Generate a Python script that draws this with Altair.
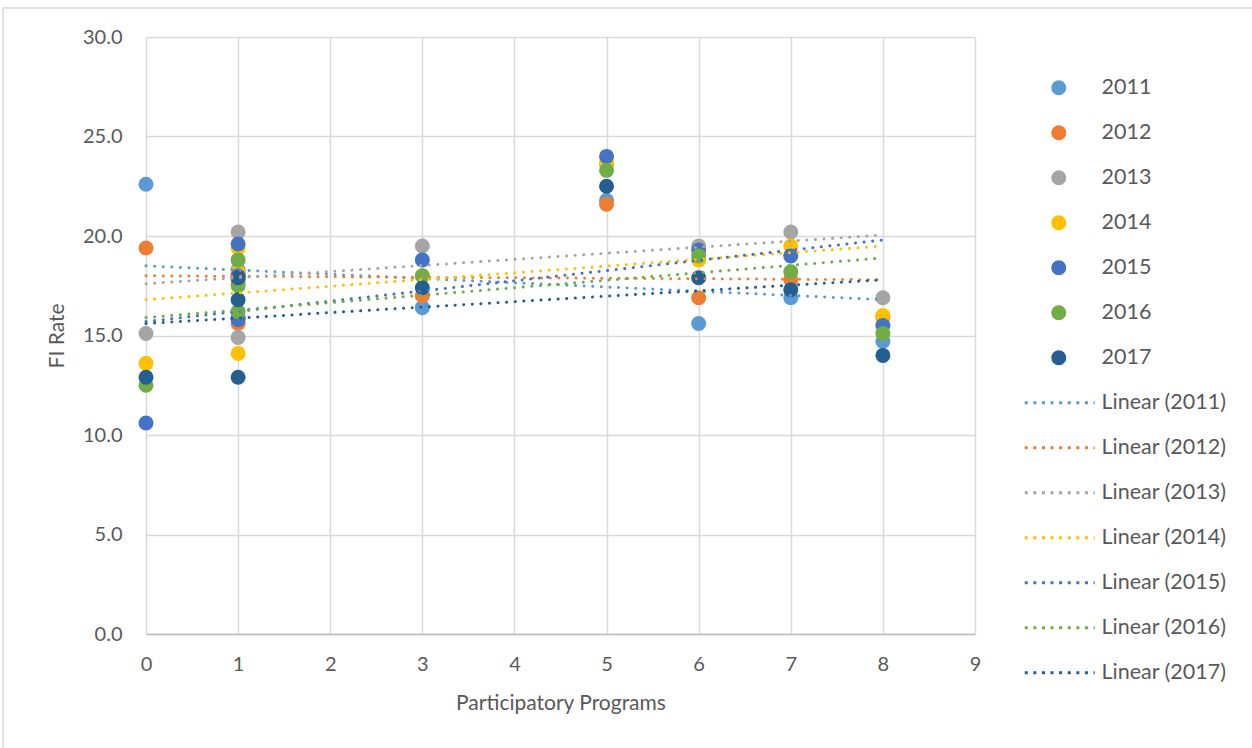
import altair as alt
import pandas as pd

# Participatory programs per location (x) and FI rate per year (y)
programs = [0, 1, 1, 1, 3, 5, 6, 7, 8]
years = ["2011", "2012", "2013", "2014", "2015", "2016", "2017"]
rates = {
    "2011": [22.6, 18.3, 17.8, 15.9, 16.4, 21.8, 15.6, 16.9, 14.7],
    "2012": [19.4, 18.1, 17.6, 15.6, 17.0, 21.6, 16.9, 17.8, 15.9],
    "2013": [15.1, 20.2, 17.9, 14.9, 19.5, 23.6, 19.5, 20.2, 16.9],
    "2014": [13.6, 19.4, 18.2, 14.1, 18.0, 23.7, 18.8, 19.5, 16.0],
    "2015": [10.6, 19.6, 18.0, 15.8, 18.8, 24.0, 19.3, 19.0, 15.5],
    "2016": [12.5, 18.8, 17.5, 16.2, 18.0, 23.3, 19.0, 18.2, 15.1],
    "2017": [12.9, 17.9, 16.8, 12.9, 17.4, 22.5, 17.9, 17.3, 14.0],
}
# Linear trend values at 0 and 8 programs
trend_x = [0, 8]
trend_start = [18.5, 18.0, 17.6, 16.8, 15.7, 15.9, 15.6]
trend_end = [16.8, 17.8, 20.05, 19.5, 19.8, 18.9, 17.8]
colors = ["#5B9BD5", "#ED7D31", "#A5A5A5", "#FFC000", "#4472C4", "#70AD47", "#255E91"]
trend_labels = [f"Linear ({y})" for y in years]

pts = pd.DataFrame(
    [{"year": y, "programs": p, "rate": r} for y in years for p, r in zip(programs, rates[y])]
)
trend = pd.DataFrame(
    [
        {"label": lab, "programs": x, "rate": v}
        for lab, s, e in zip(trend_labels, trend_start, trend_end)
        for x, v in zip(trend_x, [s, e])
    ]
)

FONT = "Lato"
TXT = "#595959"
GRID = "#D9D9D9"

x_enc = alt.X(
    "programs:Q",
    scale=alt.Scale(domain=[0, 9], nice=False),
    axis=alt.Axis(
        values=list(range(10)), format="d", title="Participatory Programs", grid=True,
        gridColor=GRID, gridWidth=1.5, domainColor="#BFBFBF", domainWidth=1.5,
        ticks=False, labelPadding=20, labelFontSize=20, labelColor=TXT, labelFlush=False,
        titleFontSize=21, titleFontWeight="normal", titleColor=TXT, titlePadding=18,
        labelFont=FONT, titleFont=FONT,
    ),
)
y_enc = alt.Y(
    "rate:Q",
    scale=alt.Scale(domain=[0, 30], nice=False),
    axis=alt.Axis(
        values=[0, 5, 10, 15, 20, 25, 30], format=".1f", title="FI Rate", grid=True,
        gridColor=GRID, gridWidth=1.5, domain=False, ticks=False, labelPadding=24,
        labelFontSize=20, labelColor=TXT, labelFlush=False, titleFontSize=21,
        titleFontWeight="normal", titleColor=TXT, titlePadding=15, labelFont=FONT,
        titleFont=FONT,
    ),
)

points = alt.Chart(pts).mark_circle(size=225, opacity=1).encode(
    x=x_enc,
    y=y_enc,
    color=alt.Color(
        "year:N",
        scale=alt.Scale(domain=years, range=colors),
        legend=alt.Legend(
            title=None, orient="none", legendX=902, legendY=40, symbolType="circle",
            symbolSize=225, symbolOpacity=1, symbolStrokeWidth=0, labelOffset=32,
            labelFontSize=21.5, labelColor=TXT, labelFont=FONT, rowPadding=22,
        ),
    ),
)

lines = alt.Chart(trend).mark_line(strokeDash=[0.1, 8.5], strokeCap="round", strokeWidth=3).encode(
    x="programs:Q",
    y="rate:Q",
    color=alt.Color(
        "label:N",
        scale=alt.Scale(domain=trend_labels, range=colors),
        legend=alt.Legend(
            title=None, orient="none", legendX=903, legendY=355,
            symbolType="M-8.75,0H8.75", symbolSize=64, symbolStrokeWidth=3,
            symbolDash=[3, 5.6], labelOffset=31, labelFontSize=21.5, labelColor=TXT,
            labelFont=FONT, rowPadding=22,
        ),
    ),
)

# Light frame around the whole chart area
frame = alt.Chart(pd.DataFrame({"k": [0]})).mark_rect(
    fill=None, stroke="#D9D9D9", strokeWidth=1.5, clip=False
).encode(
    x=alt.value(-143), x2=alt.value(1120), y=alt.value(-29), y2=alt.value(720)
)

chart = (
    alt.layer(frame, points, lines)
    .resolve_scale(color="independent")
    .properties(
        width=829, height=597,
        padding={"left": 146, "top": 37, "right": 277, "bottom": 114},
        autosize=alt.AutoSizeParams(type="none"),
        background="white",
    )
    .configure_view(stroke=None)
)

chart.save("out.html", embed_options={"renderer": "svg", "actions": False})
